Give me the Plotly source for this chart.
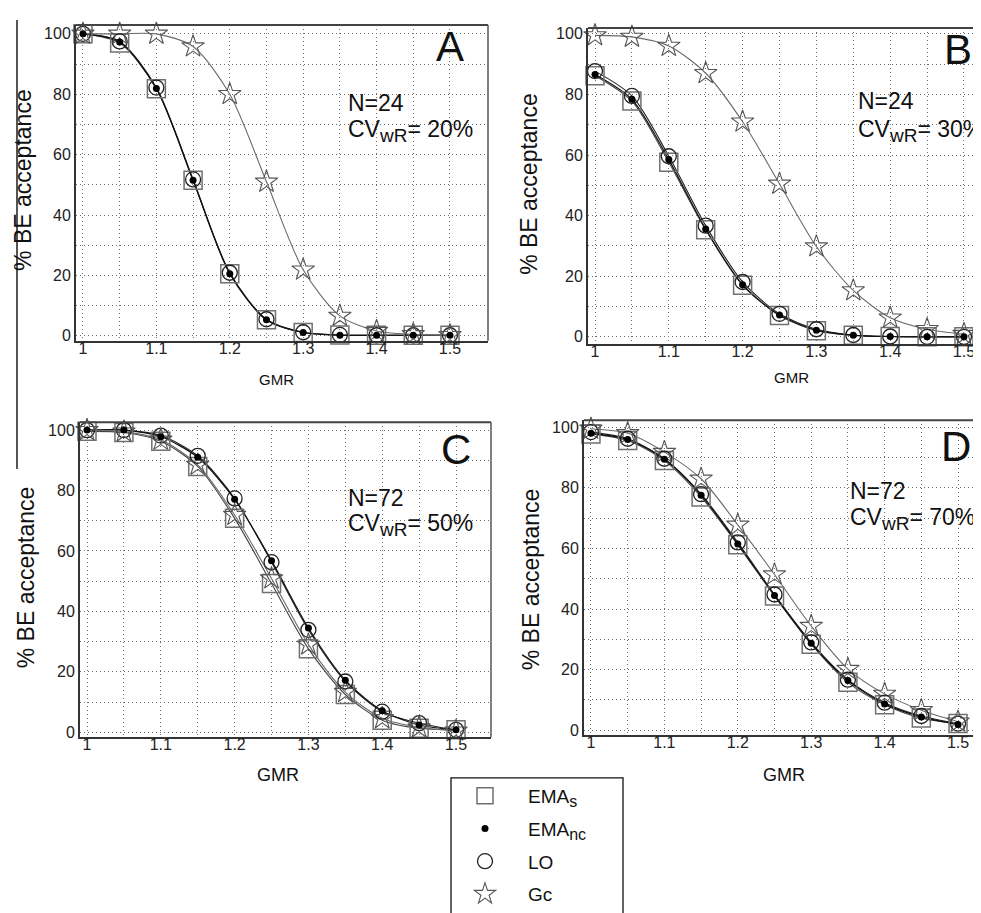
import plotly.graph_objects as go

W, H = 981, 913

# ---------------- data ----------------
gmr = [1.0, 1.05, 1.1, 1.15, 1.2, 1.25, 1.3, 1.35, 1.4, 1.45, 1.5]

emas_A = [100, 97.0, 81.8, 51.5, 20.6, 5.3, 1.1, 0.3, 0.2, 0.2, 0.2]
emanc_A = [100, 97.3, 81.9, 51.5, 20.6, 5.3, 1.1, 0.2, 0.2, 0.2, 0.2]
lo_A = [100, 97.5, 82.2, 51.8, 20.9, 5.5, 1.2, 0.3, 0.2, 0.2, 0.2]
gc_A = [100, 100, 100, 95.8, 80.0, 51.0, 21.9, 6.6, 1.6, 0.5, 0.2]

emas_B = [86.2, 77.8, 57.6, 35.3, 17.0, 7.0, 2.0, 0.5, 0.1, 0.0, 0.0]
emanc_B = [86.6, 78.4, 58.5, 35.6, 17.2, 7.2, 2.2, 0.5, 0.1, 0.0, 0.0]
lo_B = [87.7, 79.5, 59.6, 36.7, 18.1, 7.6, 2.5, 0.6, 0.1, 0.0, 0.0]
gc_B = [99.5, 99.0, 96.0, 87.0, 71.0, 50.5, 29.8, 15.3, 6.3, 2.5, 0.9]

emas_C = [99.6, 99.2, 96.3, 88.0, 70.8, 49.2, 27.6, 12.5, 4.0, 1.3, 0.8]
emanc_C = [100, 100, 97.8, 91.0, 77.1, 56.8, 34.5, 17.2, 7.1, 2.4, 0.8]
lo_C = [100, 100, 98.2, 91.5, 77.4, 56.3, 33.9, 16.8, 6.8, 3.0, 0.8]
gc_C = [100, 99.5, 96.8, 88.5, 71.9, 50.9, 29.0, 13.3, 4.6, 1.6, 0.5]

emas_D = [97.8, 95.6, 89.0, 77.0, 61.2, 44.3, 28.4, 15.8, 8.4, 4.0, 2.2]
emanc_D = [98.0, 96.0, 89.4, 77.6, 61.5, 44.5, 28.7, 16.4, 8.7, 4.4, 1.9]
lo_D = [98.4, 96.2, 89.6, 77.9, 62.0, 44.8, 29.0, 16.7, 9.1, 4.7, 2.2]
gc_D = [99.5, 98.0, 91.8, 83.0, 67.8, 51.4, 34.4, 20.2, 12.0, 6.6, 2.8]

panel_letters = ["A", "B", "C", "D"]
n_labels = ["N=24", "N=24", "N=72", "N=72"]
cv_values = ["20%", "30%", "50%", "70%"]
series_names = ["EMA", "EMA", "LO", "Gc"]
series_subs = ["s", "nc", "", ""]
x_tickvals = [1.0, 1.05, 1.1, 1.15, 1.2, 1.25, 1.3, 1.35, 1.4, 1.45, 1.5]
x_ticktext = ["1", "", "1.1", "", "1.2", "", "1.3", "", "1.4", "", "1.5"]
y_tickvals = [0, 10, 20, 30, 40, 50, 60, 70, 80, 90, 100]
y_ticktext = ["0", "", "20", "", "40", "", "60", "", "80", "", "100"]

panels = [
    dict(emas=emas_A, emanc=emanc_A, lo=lo_A, gc=gc_A),
    dict(emas=emas_B, emanc=emanc_B, lo=lo_B, gc=gc_B),
    dict(emas=emas_C, emanc=emanc_C, lo=lo_C, gc=gc_C),
    dict(emas=emas_D, emanc=emanc_D, lo=lo_D, gc=gc_D),
]

# ---------------- layout geometry (pixels) ----------------
def px(x):
    return x / W

def py(y):
    return 1 - y / H

geo = [
    dict(l=68, r=480, t=15, b=333, xr=[0.9905, 1.5518], yr=[-1.64, 102.96]),
    dict(l=580, r=981, t=18, b=336, xr=[0.9905, 1.5339], yr=[-2.30, 101.97]),
    dict(l=72, r=483, t=415, b=732, xr=[0.9905, 1.5474], yr=[-1.64, 102.6]),
    dict(l=576, r=981, t=413, b=730, xr=[0.9905, 1.5422], yr=[-1.64, 102.3]),
]

FONT = "Liberation Sans, Arial, sans-serif"
fig = go.Figure()

def sub(base, s, size):
    if not s:
        return base
    return f"{base}<sub><span style='font-size:{size}px'>{s}</span></sub>"

marker_styles = {
    "emas": dict(symbol="square-open", size=18, color="#707070", line=dict(width=1.5, color="#707070")),
    "lo": dict(symbol="circle-open", size=15, color="#222222", line=dict(width=1.3, color="#222222")),
    "gc": dict(symbol="star-open", size=17, color="#555555", line=dict(width=1.1, color="#555555")),
    "emanc": dict(symbol="circle", size=7, color="#000000"),
}
line_styles = {
    "emas": dict(color="#444444", width=1.1),
    "emanc": dict(color="#111111", width=1.2),
    "lo": dict(color="#222222", width=1.1),
    "gc": dict(color="#6a6a6a", width=1.1),
}
key_idx = {"emas": 0, "emanc": 1, "lo": 2, "gc": 3}

for i, pdata in enumerate(panels):
    xa = "x" if i == 0 else f"x{i+1}"
    ya = "y" if i == 0 else f"y{i+1}"
    for key in ["emas", "lo", "emanc", "gc"]:
        fig.add_trace(go.Scatter(
            x=gmr, y=pdata[key], mode="lines", xaxis=xa, yaxis=ya,
            line=dict(shape="spline", smoothing=0.8, **line_styles[key]),
            showlegend=False, hoverinfo="skip"))
    for key in ["emas", "lo", "gc", "emanc"]:
        k = key_idx[key]
        fig.add_trace(go.Scatter(
            x=gmr, y=pdata[key], mode="markers", xaxis=xa, yaxis=ya,
            marker=marker_styles[key], name=sub(series_names[k], series_subs[k], 16),
            showlegend=(i == 0), legendrank=k + 1,
            legendgroup=key, cliponaxis=False))

shapes = []
annotations = []
GRID = dict(showgrid=True, gridcolor="#707070", griddash="1px,3px", gridwidth=1)
for i, g in enumerate(geo):
    n = "" if i == 0 else str(i + 1)
    xdom = [px(g["l"]), px(g["r"])]
    ydom = [py(g["b"]), py(g["t"])]
    fig.layout[f"xaxis{n}"] = dict(
        domain=xdom, range=g["xr"], anchor=f"y{n}",
        tickmode="array", tickvals=x_tickvals, ticktext=x_ticktext,
        showline=True, linecolor="#333333", linewidth=2, ticks="",
        ticklabelstandoff=-8,
        zeroline=False, tickfont=dict(size=16, color="#222222", family=FONT), **GRID)
    fig.layout[f"yaxis{n}"] = dict(
        domain=ydom, range=g["yr"], anchor=f"x{n}",
        tickmode="array", tickvals=y_tickvals, ticktext=y_ticktext,
        showline=True, linecolor="#333333", linewidth=2, ticks="",
        zeroline=False, tickfont=dict(size=16, color="#222222", family=FONT), **GRID)
    xd = "x domain" if i == 0 else f"x{n} domain"
    yd = "y domain" if i == 0 else f"y{n} domain"
    shapes.append(dict(type="line", xref=xd, yref=yd, x0=0, x1=1, y0=1, y1=1,
                       line=dict(color="#444444", width=2)))
    if i in (0, 2):
        shapes.append(dict(type="line", xref=xd, yref=yd, x0=1, x1=1, y0=0, y1=1,
                           line=dict(color="#555555", width=1.5)))

letter_pos = [(442, 37), (950, 40), (448, 442), (948, 439)]
n_pos = [(338, 94), (848, 92), (338, 491), (840, 484)]
cv_pos = [(338, 122), (848, 122), (338, 518), (840, 512)]
ytitle_pos = [(15, 171), (521, 175), (18, 571), (523, 573)]
gmr_pos = [(268, 372, 15), (783, 370, 15), (270, 770, 18), (776, 770, 18)]

for i in range(4):
    annotations.append(dict(text=panel_letters[i], x=px(letter_pos[i][0]), y=py(letter_pos[i][1]),
                            xref="paper", yref="paper", showarrow=False, xanchor="center", yanchor="middle",
                            font=dict(size=42, color="#111111", family=FONT)))
    annotations.append(dict(text=n_labels[i], x=px(n_pos[i][0]), y=py(n_pos[i][1]),
                            xref="paper", yref="paper", showarrow=False, xanchor="left", yanchor="middle",
                            font=dict(size=23, color="#111111", family=FONT)))
    annotations.append(dict(text=sub("CV", "wR", 19) + "= " + cv_values[i],
                            x=px(cv_pos[i][0]), y=py(cv_pos[i][1]),
                            xref="paper", yref="paper", showarrow=False, xanchor="left", yanchor="middle",
                            font=dict(size=23, color="#111111", family=FONT)))
    annotations.append(dict(text="% BE acceptance", x=px(ytitle_pos[i][0]), y=py(ytitle_pos[i][1]),
                            xref="paper", yref="paper", showarrow=False, xanchor="center", yanchor="middle",
                            textangle=-90, font=dict(size=23, color="#111111", family=FONT)))
    annotations.append(dict(text="GMR", x=px(gmr_pos[i][0]), y=py(gmr_pos[i][1]),
                            xref="paper", yref="paper", showarrow=False, xanchor="center", yanchor="middle",
                            font=dict(size=gmr_pos[i][2], color="#111111", family=FONT)))

shapes.append(dict(type="line", xref="paper", yref="paper", x0=px(9), x1=px(9), y0=py(10), y1=py(462),
                   line=dict(color="#555555", width=2)))
shapes.append(dict(type="rect", xref="paper", yref="paper", x0=px(443), x1=px(615), y0=py(773), y1=py(940),
                   line=dict(color="#111111", width=1.3), fillcolor="rgba(0,0,0,0)"))

fig.update_layout(
    width=W, height=H, margin=dict(l=0, r=0, t=0, b=0),
    paper_bgcolor="white", plot_bgcolor="white",
    shapes=shapes, annotations=annotations,
    showlegend=True,
    legend=dict(x=px(434), y=py(772), xanchor="left", yanchor="top",
                bgcolor="rgba(0,0,0,0)", borderwidth=0,
                font=dict(size=19, color="#111111", family=FONT),
                traceorder="grouped", tracegroupgap=5, itemwidth=76),
    font=dict(family=FONT),
)

fig.write_html("out.html")
